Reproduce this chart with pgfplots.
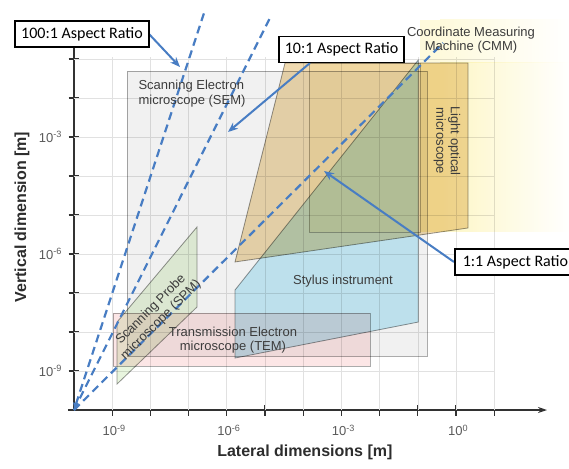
\documentclass[border=0pt]{standalone}
\usepackage{pgfplots}
\pgfplotsset{compat=1.18}
\usepackage{fontspec}
\setmainfont{Liberation Sans}
\newfontfamily\calibri{Carlito}
\usetikzlibrary{arrows.meta}
\definecolor{axc}{RGB}{50,50,50}
\definecolor{tickc}{RGB}{90,90,90}
\definecolor{labc}{RGB}{45,45,45}
\definecolor{regc}{RGB}{60,60,60}
\definecolor{gridc}{RGB}{225,225,225}
\definecolor{semfill}{RGB}{241,241,241}
\definecolor{temfill}{RGB}{252,230,230}
\definecolor{spmfill}{RGB}{232,245,222}
\definecolor{styfill}{RGB}{200,238,250}
\definecolor{lomfill}{RGB}{240,218,176}
\definecolor{cmmfaint}{RGB}{255,252,234}
\definecolor{cmmy}{RGB}{253,246,196}
\definecolor{cmmtop}{RGB}{254,250,220}
\definecolor{edgec}{RGB}{150,150,150}
\definecolor{bluec}{RGB}{72,125,195}
\begin{document}
\begin{tikzpicture}[x=1pt,y=1pt]
\useasboundingbox (-74,-58) rectangle (495,410);
\begin{axis}[
  at={(0,0)}, anchor=south west,
  scale only axis, width=473pt, height=362pt,
  xmode=log, ymode=log,
  xmin=1e-10, xmax=240, ymin=1e-10, ymax=0.1905,
  axis lines=left,
  axis line style={line width=1.3pt, color=axc},
  x axis line style={-{Stealth[length=9pt,width=6pt]}, shorten <=-6pt},
  y axis line style={-},
  clip=false,
  xtick={1e-9,1e-8,1e-7,1e-6,1e-5,1e-4,1e-3,1e-2,1e-1,1,10},
  xticklabels={10\textsuperscript{-9},,,10\textsuperscript{-6},,,10\textsuperscript{-3},,,10\textsuperscript{0},},
  ytick={1e-9,1e-8,1e-7,1e-6,1e-5,1e-4,1e-3,1e-2,1e-1},
  yticklabels={10\textsuperscript{-9},,,10\textsuperscript{-6},,,10\textsuperscript{-3},,},
  xminorticks=false, yminorticks=false,
  tick align=center, major tick length=11pt,
  tick style={line width=1.2pt, color=axc},
  ticklabel style={font=\fontsize{13}{13}\selectfont, text=tickc},
  xticklabel style={yshift=-6pt, xshift=2pt},
  yticklabel style={xshift=-3pt},
  xlabel={Lateral dimensions [m]},
  ylabel={Vertical dimension [m]},
  xlabel style={font=\bfseries\fontsize{16}{16}\selectfont, text=labc, at={(axis description cs:0.488,-0.116)}, anchor=center},
  ylabel style={font=\bfseries\fontsize{16}{16}\selectfont, text=labc, at={(axis description cs:-0.110,0.533)}, anchor=center},
  every axis plot/.append style={mark=none},
]
% grid
\pgfplotsinvokeforeach{-9,...,1}{\draw[gridc, line width=0.7pt] (axis cs:1e#1,1e-10) -- (axis cs:1e#1,0.112);}
\pgfplotsinvokeforeach{-9,...,-1}{\draw[gridc, line width=0.7pt] (axis cs:1e-10,1e#1) -- (axis cs:10,1e#1);}
% SEM
\addplot[fill=semfill, draw=edgec!80, line width=0.8pt, blend mode=multiply] coordinates {(2.44e-9,2.43e-9) (0.174,2.43e-9) (0.174,0.0492) (2.44e-9,0.0492)} -- cycle;
% TEM
\addplot[fill=temfill, draw=edgec!80, line width=0.8pt, blend mode=multiply] coordinates {(1.05e-9,1.34e-9) (5.61e-3,1.34e-9) (5.61e-3,3.07e-8) (1.05e-9,3.07e-8)} -- cycle;
% CMM
\addplot[fill=cmmfaint, draw=edgec!70, line width=0.8pt, blend mode=multiply] coordinates {(1.42e-4,3.66e-6) (0.114,3.66e-6) (0.114,0.0789) (1.42e-4,0.0789)} -- cycle;
\addplot[fill=cmmy, draw=none, blend mode=multiply] coordinates {(0.114,3.66e-6) (0.381,3.66e-6) (0.381,0.0789) (0.114,0.0789)} -- cycle;
\addplot[left color=cmmy, right color=white, draw=none, blend mode=multiply] coordinates {(0.381,3.66e-6) (964,3.66e-6) (964,0.0789) (0.381,0.0789)} -- cycle;
\addplot[fill=cmmtop, draw=none, blend mode=multiply] coordinates {(0.114,0.0789) (0.381,0.0789) (0.381,1.0) (0.114,1.0)} -- cycle;
\addplot[left color=cmmtop, right color=white, draw=none, blend mode=multiply] coordinates {(0.381,0.0789) (964,0.0789) (964,1.0) (0.381,1.0)} -- cycle;
% Light optical microscope
\addplot[fill=lomfill, draw=edgec, line width=0.8pt, blend mode=multiply] coordinates {(1.64e-6,6.24e-7) (3.34e-5,0.0789) (2.06,0.0789) (2.06,4.64e-6)} -- cycle;
% Stylus instrument
\addplot[fill=styfill, draw=edgec, line width=0.8pt, blend mode=multiply] coordinates {(1.64e-6,2.15e-9) (0.103,1.80e-8) (0.103,0.0942) (1.64e-6,1.19e-7)} -- cycle;
% SPM
\addplot[fill=spmfill, draw=edgec, line width=0.8pt, blend mode=multiply] coordinates {(1.34e-9,4.64e-10) (1.66e-7,4.38e-8) (1.66e-7,4.92e-6) (1.34e-9,1.80e-8)} -- cycle;
% aspect ratio lines
\addplot[bluec, line width=2.2pt, dash pattern=on 8pt off 5pt] coordinates {(1e-10,1e-10) (0.457,0.257)};
\addplot[bluec, line width=2.2pt, dash pattern=on 8pt off 5pt] coordinates {(1e-10,1e-10) (1.35e-5,1.125)};
\addplot[bluec, line width=2.2pt, dash pattern=on 8pt off 5pt, {Latex[length=7pt,width=7pt]}-] coordinates {(1e-10,1e-10) (2.69e-7,1.80)};
\end{axis}
% region labels
\begin{scope}[every node/.style={text=regc, font=\fontsize{13}{14.5}\selectfont}]
\node[align=left, anchor=west] at (61,316.5) {Scanning Electron\\microscope (SEM)};
\node[align=center] at (397,370) {Coordinate Measuring\\Machine (CMM)};
\node[align=center, rotate=-90] at (373,269) {Light optical\\microscope};
\node[align=center, rotate=45] at (82,95) {Scanning Probe\\microscope (SPM)};
\node[align=center] at (159,70) {Transmission Electron\\microscope (TEM)};
\node at (269,129) {Stylus instrument};
\end{scope}
% annotation arrows
\begin{scope}[bluec, line width=2pt, -{Stealth[length=10pt,width=8pt]}]
\draw (75,376) -- (106,343);
\draw (236,347) -- (154,278);
\draw (380,148) -- (250,239);
\end{scope}
\begin{scope}[every node/.style={draw=black, line width=1.5pt, fill=white, text=black, font=\calibri\fontsize{16}{16}\selectfont, inner xsep=6pt, minimum height=26pt}]
\node at (8,376) {100:1 Aspect Ratio};
\node at (267.5,360.5) {10:1 Aspect Ratio};
\node[anchor=west, inner xsep=8pt] at (380,148) {1:1 Aspect Ratio};
\end{scope}
\end{tikzpicture}
\end{document}
